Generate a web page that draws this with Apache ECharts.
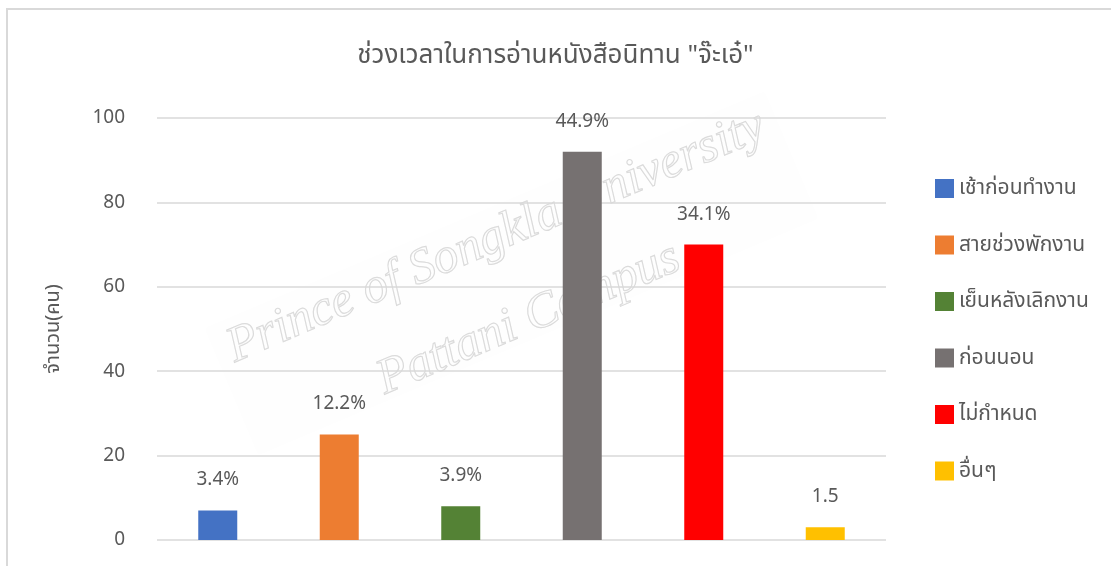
<!DOCTYPE html>
<html>
<head>
<meta charset="utf-8">
<script src="https://cdn.jsdelivr.net/npm/echarts@6/dist/echarts.min.js"></script>
<style>
  html, body { margin: 0; padding: 0; background: #fff; }
  #chart { width: 1111px; height: 566px; }
</style>
</head>
<body>
<div id="chart"></div>
<script>
const categories = ['เช้าก่อนทำงาน', 'สายช่วงพักงาน', 'เย็นหลังเลิกงาน', 'ก่อนนอน', 'ไม่กำหนด', 'อื่นๆ']
const counts = [7, 25, 8, 92, 70, 3]
const labelTexts = ['3.4%', '12.2%', '3.9%', '44.9%', '34.1%', '1.5']
const colors = ['#4472C4', '#ED7D31', '#548235', '#767171', '#FF0000', '#FFC000']
const yTicks = [0, 20, 40, 60, 80, 100]

const font = '"Noto Sans", "Noto Sans Thai", "DejaVu Sans", sans-serif'
const textColor = '#595959'

const chart = echarts.init(document.getElementById('chart'))

// one series per category so each gets a legend entry, stacked so bars stay centred
const series = categories.map((name, i) => ({
  name: name,
  type: 'bar',
  stack: 'all',
  barWidth: 39,
  itemStyle: { color: colors[i] },
  label: {
    show: true,
    position: 'top',
    distance: 21,
    fontSize: 19,
    fontFamily: font,
    color: textColor,
    formatter: () => labelTexts[i],
  },
  data: counts.map((v, j) => (j === i ? v : '-')),
}))

chart.setOption({
  backgroundColor: '#fff',
  animation: false,
  title: {
    text: 'ช่วงเวลาในการอ่านหนังสือนิทาน "จ๊ะเอ๋"',
    left: 'center',
    top: 38,
    textStyle: { fontSize: 26, fontWeight: 'normal', color: textColor, fontFamily: font },
  },
  legend: {
    orient: 'vertical',
    left: 930,
    top: 173,
    itemWidth: 19,
    itemHeight: 19,
    itemGap: 35.5,
    icon: 'rect',
    textStyle: { fontSize: 21, color: textColor, fontFamily: font },
    data: categories,
  },
  grid: { left: 157, right: 225, top: 118, bottom: 26 },
  xAxis: {
    type: 'category',
    data: categories,
    axisLine: { show: false },
    axisTick: { show: false },
    axisLabel: { show: false },
  },
  yAxis: {
    type: 'value',
    min: yTicks[0],
    max: yTicks[yTicks.length - 1],
    interval: 20,
    name: 'จำนวน(คน)',
    nameLocation: 'middle',
    nameGap: 94,
    nameRotate: 90,
    nameTextStyle: { fontSize: 20, color: textColor, fontFamily: font },
    axisLine: { show: false },
    axisTick: { show: false },
    axisLabel: { fontSize: 19, color: textColor, fontFamily: font, margin: 32 },
    splitLine: { lineStyle: { color: '#d9d9d9', width: 1.5 } },
  },
  series: series,
  graphic: [
    // chart frame
    {
      type: 'rect',
      shape: { x: 7, y: 9, width: 1200, height: 700 },
      style: { fill: 'none', stroke: '#d9d9d9', lineWidth: 2 },
    },
    // watermark
    {
      type: 'group',
      x: 510,
      y: 275,
      rotation: 0.4,
      z: 100,
      children: [
        {
          type: 'rect',
          shape: { x: -322, y: -90, width: 648, height: 178, r: 6 },
          style: {
            fill: 'rgba(255,255,255,0.1)',
            shadowBlur: 16,
            shadowColor: 'rgba(0,0,0,0.025)',
          },
        },
        {
          type: 'text',
          x: 2,
          y: -40,
          style: {
            text: 'Prince of Songkla University',
            align: 'center',
            verticalAlign: 'middle',
            font: 'italic 50px "Liberation Serif", serif',
            fill: 'rgba(255,255,255,0.15)',
            stroke: '#d9d9d9',
            lineWidth: 1.2,
          },
        },
        {
          type: 'text',
          x: 0,
          y: 48,
          style: {
            text: 'Pattani Campus',
            align: 'center',
            verticalAlign: 'middle',
            font: 'italic 50px "Liberation Serif", serif',
            fill: 'rgba(255,255,255,0.15)',
            stroke: '#d9d9d9',
            lineWidth: 1.2,
          },
        },
      ],
    },
  ],
})
</script>
</body>
</html>
